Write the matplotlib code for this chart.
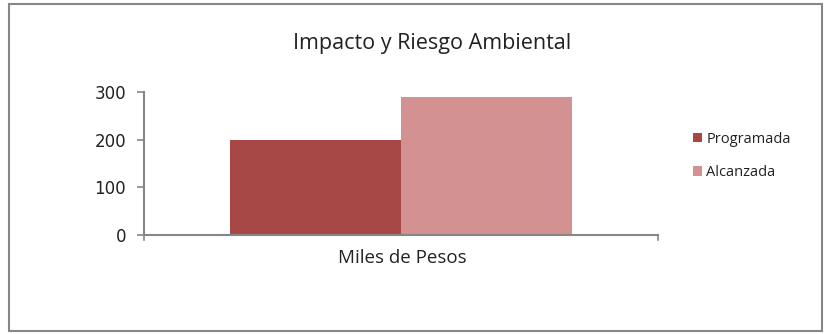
import matplotlib
matplotlib.use("Agg")
import matplotlib.pyplot as plt
from matplotlib.patches import Rectangle

categories = ["Miles de Pesos"]
series_names = ["Programada", "Alcanzada"]
programada = [200]
alcanzada = [290]
yticks = [0, 100, 200, 300]
title = "Impacto y Riesgo Ambiental"
colors = ["#A84846", "#D39191"]

plt.rcParams['font.family'] = ['Open Sans', 'DejaVu Sans']

fig = plt.figure(figsize=(8.32, 3.34), dpi=100)
ax = fig.add_axes([144/832, 1-235/334, (658-144)/832, (235-92)/334])

w = 1/3
ax.bar([-w/2], programada, width=w, color=colors[0], label=series_names[0])
ax.bar([w/2], alcanzada, width=w, color=colors[1], label=series_names[1])

ax.set_xlim(-0.5, 0.5)
ax.set_ylim(0, 300)
ax.set_yticks(yticks)
ax.set_yticklabels([str(v) for v in yticks], fontsize=12, color="#222222",
                   family=['DejaVu Sans'])
ax.set_xticks([])
for s in ["top", "right"]:
    ax.spines[s].set_visible(False)
for s in ["left", "bottom"]:
    ax.spines[s].set_color("#868686")
    ax.spines[s].set_linewidth(1.5)
ax.tick_params(axis="y", length=5, width=1.2, color="#868686", pad=8)
# x-axis end ticks
for xv in [-0.5, 0.5]:
    ax.plot([xv, xv], [0, -0.035], transform=ax.get_xaxis_transform(),
            color="#868686", lw=1.2, clip_on=False)
fig.text(402/832, 1-258/334, categories[0],
         ha="center", va="center", fontsize=13.5, color="#222222")

fig.text(432/832, 1-44/334, title, ha="center", va="center", fontsize=15.5, color="#222222")

leg = fig.legend(loc="center left", bbox_to_anchor=(680/832, 1-156/334),
                 frameon=False, fontsize=10.5, handlelength=0.6, handleheight=0.6,
                 handletextpad=0.3, labelspacing=1.25)
for t in leg.get_texts():
    t.set_color("#222222")

fig.patches.append(Rectangle((9/832, 3/334), (822-9)/832, (330-3)/334,
                             transform=fig.transFigure, fill=False,
                             edgecolor="#868686", lw=1.5))

fig.savefig("out.png", dpi=100)
